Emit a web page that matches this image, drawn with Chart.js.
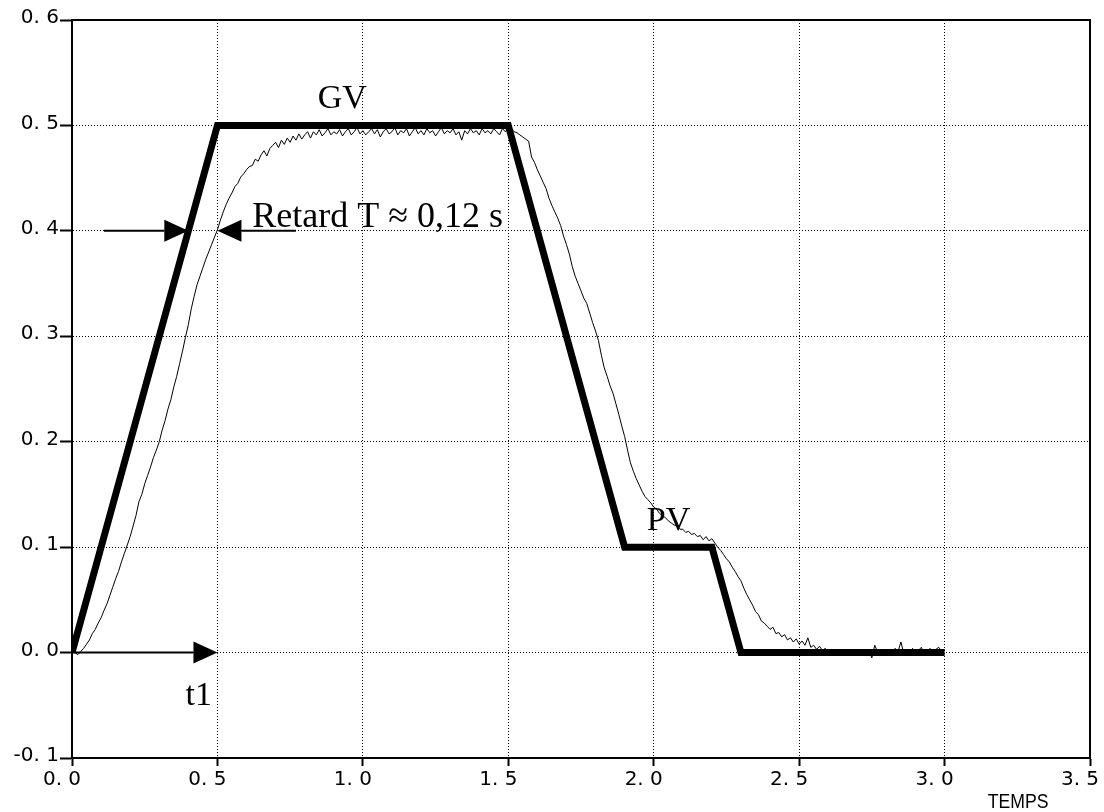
<!DOCTYPE html>
<html lang="fr">
<head>
<meta charset="UTF-8">
<title>GV / PV - Retard</title>
<style>
  html, body { margin: 0; padding: 0; background: #fff; }
  #wrap { width: 1104px; height: 812px; }
</style>
</head>
<body>
<div id="wrap"><canvas id="chart" width="1104" height="812"></canvas></div>
<script src="https://cdn.jsdelivr.net/npm/chart.js@4/dist/chart.umd.min.js"></script>
<script>
const xTickLabels = ['0. 0', '0. 5', '1. 0', '1. 5', '2. 0', '2. 5', '3. 0', '3. 5'];
const yTickLabels = ['-0. 1', '0. 0', '0. 1', '0. 2', '0. 3', '0. 4', '0. 5', '0. 6'];

// consigne GV
const gvTimes = [0, 0.5, 1.5, 1.9, 2.2, 2.3, 3.0];
const gvValues = [0, 0.5, 0.5, 0.1, 0.1, 0, 0];

// mesure PV, one sample every 0.01 s from t = 0
const pvStep = 0.01;
const pvValues = [
  0.000, 0.000, -0.002, 0.001, 0.004, 0.008, 0.012, 0.018, 0.022, 0.028,
  0.033, 0.040, 0.046, 0.054, 0.062, 0.070, 0.077, 0.086, 0.094, 0.102,
  0.110, 0.120, 0.130, 0.143, 0.150, 0.160, 0.168, 0.176, 0.185, 0.192,
  0.200, 0.211, 0.220, 0.231, 0.240, 0.252, 0.262, 0.274, 0.286, 0.299,
  0.311, 0.326, 0.338, 0.349, 0.357, 0.365, 0.373, 0.380, 0.387, 0.394,
  0.401, 0.410, 0.418, 0.425, 0.431, 0.436, 0.442, 0.445, 0.451, 0.454,
  0.458, 0.461, 0.462, 0.468, 0.466, 0.472, 0.476, 0.471, 0.478, 0.481,
  0.484, 0.479, 0.486, 0.482, 0.488, 0.484, 0.490, 0.486, 0.492, 0.487,
  0.491, 0.494, 0.488, 0.494, 0.491, 0.496, 0.490, 0.493, 0.497, 0.491,
  0.494, 0.492, 0.496, 0.490, 0.494, 0.497, 0.491, 0.494, 0.498, 0.492,
  0.495, 0.491, 0.494, 0.497, 0.492, 0.496, 0.489, 0.494, 0.497, 0.492,
  0.494, 0.498, 0.491, 0.495, 0.493, 0.497, 0.490, 0.494, 0.498, 0.492,
  0.495, 0.491, 0.497, 0.493, 0.495, 0.490, 0.494, 0.498, 0.492, 0.495,
  0.493, 0.497, 0.491, 0.494, 0.486, 0.495, 0.492, 0.497, 0.493, 0.495,
  0.491, 0.497, 0.493, 0.495, 0.492, 0.497, 0.494, 0.491, 0.497, 0.494,
  0.498, 0.497, 0.494, 0.493, 0.491, 0.489, 0.487, 0.485, 0.470, 0.465,
  0.458, 0.452, 0.446, 0.440, 0.431, 0.424, 0.418, 0.412, 0.405, 0.395,
  0.387, 0.378, 0.366, 0.357, 0.350, 0.343, 0.336, 0.331, 0.322, 0.313,
  0.305, 0.296, 0.282, 0.270, 0.262, 0.253, 0.246, 0.236, 0.226, 0.215,
  0.205, 0.192, 0.180, 0.172, 0.165, 0.159, 0.153, 0.148, 0.145, 0.142,
  0.138, 0.136, 0.132, 0.130, 0.128, 0.125, 0.123, 0.121, 0.120, 0.117,
  0.117, 0.114, 0.115, 0.112, 0.113, 0.110, 0.111, 0.107, 0.110, 0.106,
  0.108, 0.104, 0.100, 0.097, 0.093, 0.089, 0.086, 0.081, 0.077, 0.072,
  0.068, 0.061, 0.055, 0.050, 0.045, 0.039, 0.036, 0.030, 0.028, 0.025,
  0.022, 0.024, 0.018, 0.019, 0.015, 0.017, 0.012, 0.014, 0.010, 0.013,
  0.008, 0.011, 0.007, 0.014, 0.005, 0.007, 0.003, 0.006, 0.002, 0.004,
  0.001, 0.003, -0.001, 0.002, 0.000, 0.003, -0.002, 0.001, 0.002, -0.001,
  0.002, 0.000, 0.003, -0.001, 0.001, -0.005, 0.007, 0.000, 0.002, -0.001,
  0.001, 0.003, -0.002, 0.004, 0.001, 0.010, -0.001, 0.002, 0.000, 0.004,
  -0.002, 0.002, 0.005, -0.001, 0.001, 0.004, -0.002, 0.003, 0.005, 0.001,
  0.003
];

// arrows and texts, in data units
const arrows = [
  { from: [0, 0], to: [0.5, 0] },
  { from: [0.11, 0.4], to: [0.4, 0.4] },
  { from: [0.77, 0.4], to: [0.5, 0.4] }
];
const notes = [
  { text: 'GV', at: [0.845, 0.517], size: 34 },
  { text: 'Retard T \u2248 0,12 s', at: [0.62, 0.404], size: 36 },
  { text: 't1', at: [0.39, -0.05], size: 34 },
  { text: 'PV', at: [1.976, 0.116], size: 34 }
];

const annotations = {
  id: 'annotations',
  afterDatasetsDraw(chart) {
    const { ctx, chartArea: a, scales: { x, y } } = chart;
    ctx.save();
    ctx.strokeStyle = '#000';
    ctx.fillStyle = '#000';

    // top and right frame
    ctx.lineWidth = 2;
    ctx.beginPath();
    ctx.moveTo(a.left, a.top);
    ctx.lineTo(a.right, a.top);
    ctx.lineTo(a.right, a.bottom);
    ctx.stroke();

    arrows.forEach(ar => {
      const x1 = x.getPixelForValue(ar.from[0]);
      const y1 = y.getPixelForValue(ar.from[1]);
      const x2 = x.getPixelForValue(ar.to[0]);
      const y2 = y.getPixelForValue(ar.to[1]);
      const dir = Math.sign(x2 - x1);
      const head = 24;
      ctx.lineWidth = 2;
      ctx.beginPath();
      ctx.moveTo(x1, y1);
      ctx.lineTo(x2 - dir * head, y2);
      ctx.stroke();
      ctx.beginPath();
      ctx.moveTo(x2, y2);
      ctx.lineTo(x2 - dir * head, y2 - 11);
      ctx.lineTo(x2 - dir * head, y2 + 11);
      ctx.closePath();
      ctx.fill();
    });

    ctx.textAlign = 'left';
    ctx.textBaseline = 'alphabetic';
    notes.forEach(n => {
      ctx.font = n.size + 'px "Liberation Serif", "Times New Roman", serif';
      ctx.fillText(n.text, x.getPixelForValue(n.at[0]), y.getPixelForValue(n.at[1]));
    });

    // axis name, squeezed a little like a narrow face
    ctx.font = '21px "Liberation Sans", Arial, sans-serif';
    ctx.textAlign = 'center';
    ctx.translate(x.getPixelForValue(3.253), a.bottom + 50);
    ctx.scale(0.84, 1);
    ctx.fillText('TEMPS', 0, 0);
    ctx.restore();
  }
};

const tickFont = { family: '"DejaVu Sans", sans-serif', size: 20 };

new Chart(document.getElementById('chart'), {
  type: 'line',
  data: {
    datasets: [
      {
        label: 'PV',
        data: pvValues.map((v, i) => ({ x: i * pvStep, y: v })),
        borderColor: '#000',
        borderWidth: 1,
        pointRadius: 0,
        tension: 0
      },
      {
        label: 'GV',
        data: gvTimes.map((t, i) => ({ x: t, y: gvValues[i] })),
        borderColor: '#000',
        borderWidth: 7,
        borderJoinStyle: 'miter',
        pointRadius: 0,
        tension: 0
      }
    ]
  },
  options: {
    responsive: false,
    animation: false,
    layout: { padding: { top: 20, right: 14, left: 0, bottom: 0 } },
    plugins: { legend: { display: false }, tooltip: { enabled: false } },
    scales: {
      x: {
        type: 'linear',
        min: 0,
        max: 3.5,
        ticks: {
          stepSize: 0.5,
          autoSkip: false,
          maxRotation: 0,
          color: '#000',
          font: tickFont,
          padding: 2,
          labelOffset: -10,
          callback: (v, i) => xTickLabels[i]
        },
        grid: { color: '#000', lineWidth: 1, tickLength: 8, tickWidth: 2, tickBorderDash: [] },
        border: { color: '#000', width: 2, dash: [1, 2] },
        afterFit: s => { s.height = 54; s.paddingLeft = 0; s.paddingRight = 0; }
      },
      y: {
        min: -0.1,
        max: 0.6,
        ticks: {
          stepSize: 0.1,
          autoSkip: false,
          color: '#000',
          font: tickFont,
          padding: 1,
          labelOffset: -2,
          callback: (v, i) => yTickLabels[i]
        },
        grid: { color: '#000', lineWidth: 1, tickLength: 12, tickWidth: 2, tickBorderDash: [] },
        border: { color: '#000', width: 2, dash: [1, 2] },
        afterFit: s => { s.width = 72; s.paddingTop = 0; s.paddingBottom = 0; }
      }
    }
  },
  plugins: [annotations]
});
</script>
</body>
</html>
